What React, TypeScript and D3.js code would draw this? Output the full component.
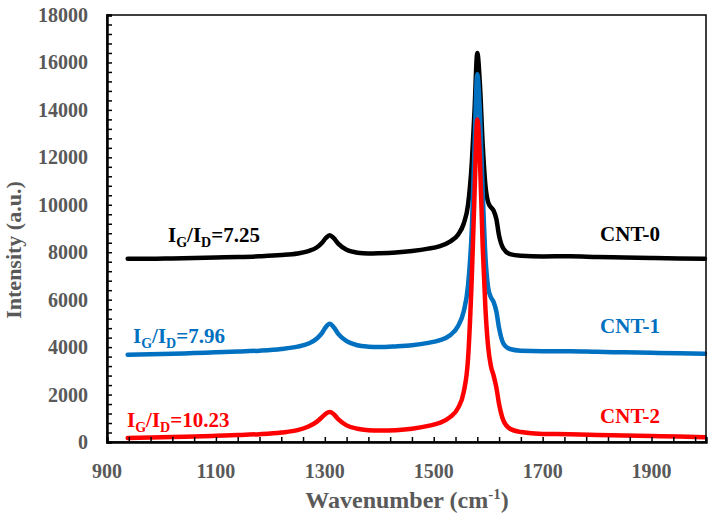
import React, { useEffect, useRef } from 'react';
import * as d3 from 'd3';

// Raman shift grid (cm-1), shared by the three spectra
const wavenumbers: number[] = [
  938, 980, 1020, 1060, 1100, 1140, 1180, 1220, 1250, 1270, 1285, 1295, 1302, 1309, 1316,
  1325, 1340, 1360, 1380, 1400, 1430, 1460, 1490, 1510, 1530, 1545, 1555, 1563, 1570, 1575,
  1580, 1585, 1590, 1595, 1600, 1605, 1610, 1615, 1620, 1628, 1640, 1660, 1700, 1750, 1800,
  1850, 1900, 1950, 1998,
];

const cnt0: number[] = [
  7720, 7720, 7740, 7760, 7780, 7800, 7830, 7880, 7950, 8050, 8200, 8400, 8600, 8720, 8600,
  8350, 8100, 7980, 7950, 7960, 7990, 8050, 8150, 8250, 8450, 8750, 9200, 10000, 11800, 14000,
  16400, 15000, 12500, 10800, 10100, 9900, 9750, 9400, 8700, 8150, 7920, 7850, 7820, 7830, 7800,
  7780, 7760, 7740, 7720,
];

const cnt1: number[] = [
  3680, 3700, 3720, 3750, 3780, 3810, 3850, 3920, 4020, 4150, 4350, 4600, 4850, 4980, 4850,
  4550, 4250, 4080, 4020, 4000, 4030, 4080, 4180, 4280, 4500, 4900, 5500, 6600, 9000, 12500,
  15500, 13800, 10500, 7800, 6500, 6100, 5900, 5500, 4800, 4150, 3920, 3850, 3830, 3830, 3800,
  3780, 3760, 3740, 3720,
];

const cnt2: number[] = [
  170, 190, 210, 230, 260, 290, 330, 400, 500, 650, 850, 1050, 1200, 1260, 1180,
  950, 700, 560, 500, 480, 500, 560, 680, 800, 1050, 1450, 2100, 3500, 7000, 10500,
  13600, 11800, 8200, 5600, 4000, 3200, 2800, 2300, 1600, 900, 560, 420, 340, 330, 300,
  270, 250, 230, 200,
];

const seriesNames: string[] = ['CNT-0', 'CNT-1', 'CNT-2'];
const ratios: string[] = ['7.25', '7.96', '10.23'];
const colors: string[] = ['#000000', '#0070C0', '#FF0000'];

const xTicks: number[] = [900, 1100, 1300, 1500, 1700, 1900];
const yTicks: number[] = [0, 2000, 4000, 6000, 8000, 10000, 12000, 14000, 16000, 18000];

const App: React.FC = () => {
  const chartRef = useRef<SVGSVGElement | null>(null);

  useEffect(() => {
    if (!chartRef.current) return;

    const W = 714;
    const H = 517;
    const margin = { top: 15, right: 8, bottom: 75, left: 107 };
    const width = W - margin.left - margin.right;
    const height = H - margin.top - margin.bottom;
    const font = "'Liberation Serif', 'Times New Roman', serif";
    const gray = '#595959';

    d3.select(chartRef.current).selectAll('*').remove();

    const svg = d3.select(chartRef.current).attr('width', W).attr('height', H);

    const chart = svg
      .append('g')
      .attr('transform', `translate(${margin.left},${margin.top})`);

    const x = d3.scaleLinear().domain([900, 2000]).range([0, width]);
    const y = d3.scaleLinear().domain([0, 18000]).range([height, 0]);

    // Spectra
    const spectra = [cnt0, cnt1, cnt2];
    const line = d3
      .line<number>()
      .x((_, i) => x(wavenumbers[i]))
      .y((d) => y(d))
      .curve(d3.curveMonotoneX);

    spectra.forEach((s, k) => {
      chart
        .append('path')
        .datum(s)
        .attr('d', line)
        .attr('fill', 'none')
        .attr('stroke', colors[k])
        .attr('stroke-width', 4.5)
        .attr('stroke-linejoin', 'round')
        .attr('stroke-linecap', 'round');
    });

    // Frame
    chart
      .append('rect')
      .attr('x', 0)
      .attr('y', 0)
      .attr('width', width)
      .attr('height', height)
      .attr('fill', 'none')
      .attr('stroke', '#000')
      .attr('stroke-width', 1.5);

    // Y axis (ticks inside)
    const yAxis = chart
      .append('g')
      .call(
        d3
          .axisLeft(y)
          .tickValues(d3.range(0, 18001, 400))
          .tickSize(-5)
          .tickFormat(() => '')
      );
    yAxis.select('.domain').attr('stroke-width', 2.5);
    yAxis.selectAll('.tick line').attr('stroke-width', 1.5);

    chart
      .selectAll('.ylab')
      .data(yTicks)
      .enter()
      .append('text')
      .attr('x', -19)
      .attr('y', (d) => y(d))
      .attr('dy', '0.35em')
      .attr('text-anchor', 'end')
      .attr('font-family', font)
      .attr('font-weight', 'bold')
      .attr('font-size', 20)
      .attr('fill', gray)
      .text((d) => String(d));

    // X axis (ticks inside)
    const xAxis = chart
      .append('g')
      .attr('transform', `translate(0,${height})`)
      .call(
        d3
          .axisBottom(x)
          .tickValues(d3.range(900, 2001, 40))
          .tickSize(-5)
          .tickFormat(() => '')
      );
    xAxis.select('.domain').attr('stroke-width', 2.5);
    xAxis.selectAll('.tick line').attr('stroke-width', 1.5);

    chart
      .selectAll('.xlab')
      .data(xTicks)
      .enter()
      .append('text')
      .attr('x', (d) => x(d))
      .attr('y', height + 36)
      .attr('text-anchor', 'middle')
      .attr('font-family', font)
      .attr('font-weight', 'bold')
      .attr('font-size', 20)
      .attr('fill', gray)
      .text((d) => String(d));

    // Axis titles
    const xt = svg
      .append('text')
      .attr('x', 407)
      .attr('y', 508)
      .attr('text-anchor', 'middle')
      .attr('font-family', font)
      .attr('font-weight', 'bold')
      .attr('font-size', 24)
      .attr('fill', gray);
    xt.append('tspan').text('Wavenumber (cm');
    xt.append('tspan').attr('font-size', 15).attr('dy', -9).text('-1');
    xt.append('tspan').attr('dy', 9).text(')');

    svg
      .append('text')
      .attr('transform', `translate(21,250) rotate(-90)`)
      .attr('text-anchor', 'middle')
      .attr('font-family', font)
      .attr('font-weight', 'bold')
      .attr('font-size', 22)
      .attr('fill', gray)
      .text('Intensity (a.u.)');

    // Ratio labels (left) and sample names (right)
    const ratioPos = [
      { x: 168, y: 242 },
      { x: 133, y: 343 },
      { x: 127, y: 427 },
    ];
    const namePos = [
      { x: 660, y: 241 },
      { x: 660, y: 333 },
      { x: 660, y: 423 },
    ];

    ratios.forEach((r, k) => {
      const t = svg
        .append('text')
        .attr('x', ratioPos[k].x)
        .attr('y', ratioPos[k].y)
        .attr('font-family', font)
        .attr('font-weight', 'bold')
        .attr('font-size', 21)
        .attr('fill', colors[k]);
      t.append('tspan').text('I');
      t.append('tspan').attr('font-size', 14).attr('dy', 5).text('G');
      t.append('tspan').attr('dy', -5).text('/I');
      t.append('tspan').attr('font-size', 14).attr('dy', 5).text('D');
      t.append('tspan').attr('dy', -5).text(`=${r}`);

      svg
        .append('text')
        .attr('x', namePos[k].x)
        .attr('y', namePos[k].y)
        .attr('text-anchor', 'end')
        .attr('font-family', font)
        .attr('font-weight', 'bold')
        .attr('font-size', 21)
        .attr('fill', colors[k])
        .text(seriesNames[k]);
    });
  }, []);

  return (
    <svg ref={chartRef} style={{ position: 'absolute', left: 0, top: 0, background: '#fff' }}></svg>
  );
};

export default App;
